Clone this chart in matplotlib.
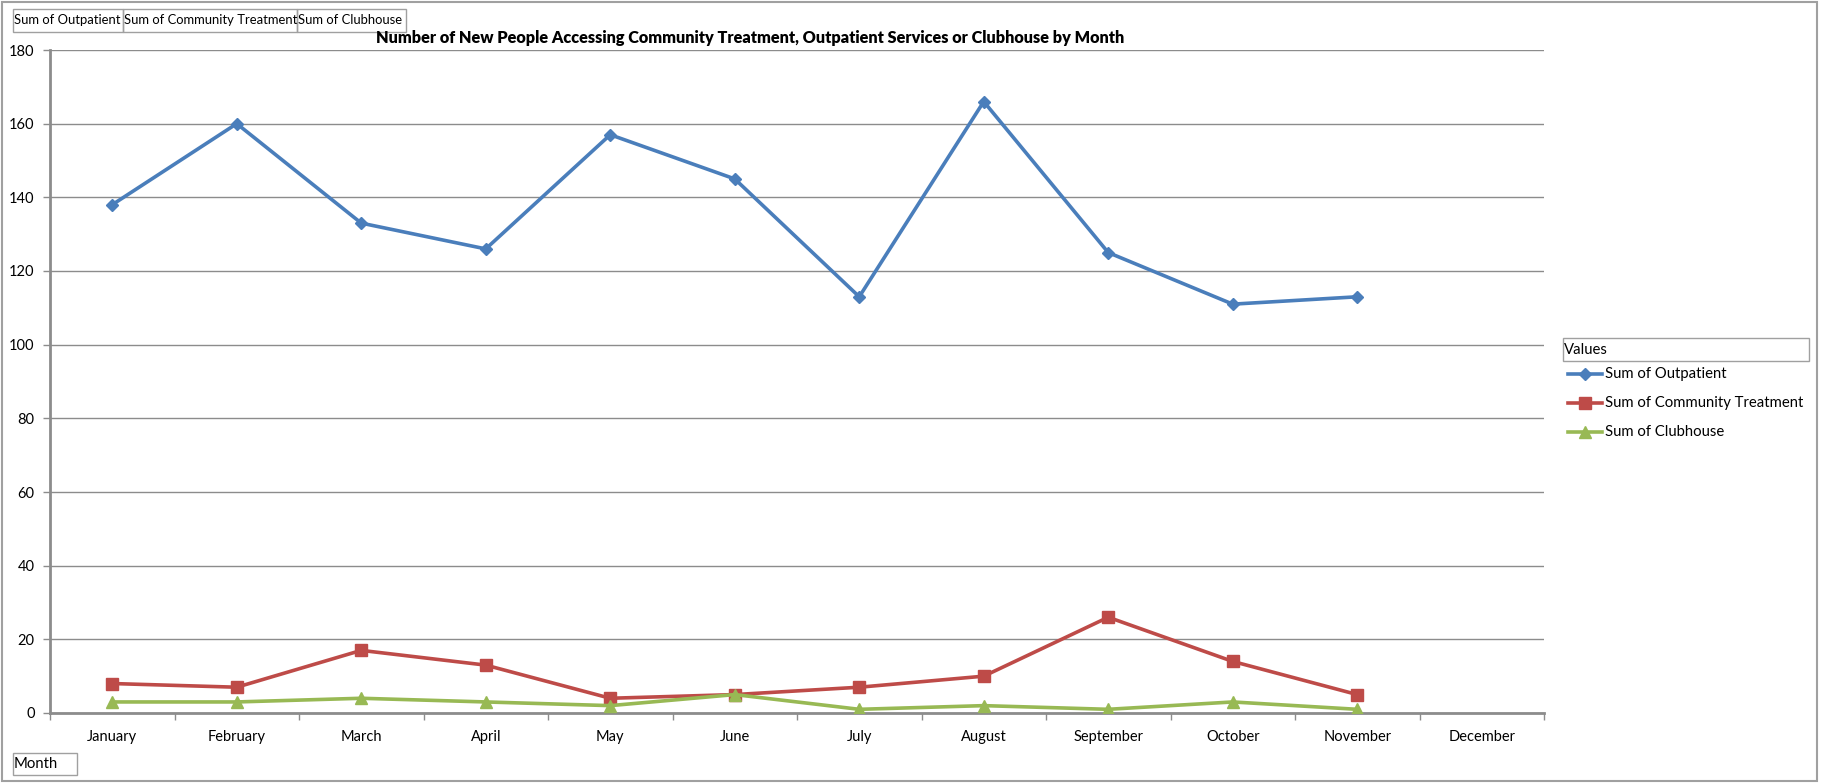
import numpy as np
import matplotlib
matplotlib.use('Agg')
import matplotlib.pyplot as plt
from matplotlib.patches import Rectangle
from matplotlib.lines import Line2D

# ============================================================
# data
# ============================================================
months = ['January', 'February', 'March', 'April', 'May', 'June', 'July',
          'August', 'September', 'October', 'November', 'December']
outpatient = [138, 160, 133, 126, 157, 145, 113, 166, 125, 111, 113, np.nan]
community = [8, 7, 17, 13, 4, 5, 7, 10, 26, 14, 5, np.nan]
clubhouse = [3, 3, 4, 3, 2, 5, 1, 2, 1, 3, 1, np.nan]
series_names = ['Sum of Outpatient', 'Sum of Community Treatment', 'Sum of Clubhouse']
title = 'Number of New People Accessing Community Treatment, Outpatient Services or Clubhouse by Month'

plt.rcParams['font.family'] = ['Lato', 'DejaVu Sans']

W, H = 1823, 783
fig = plt.figure(figsize=(W / 100, H / 100), dpi=100)


def fx(px):
    return px / W


def fy(py):
    return 1 - py / H


ax = fig.add_axes([fx(50), fy(713), fx(1544) - fx(50), fy(50) - fy(713)])

colors = ['#4A7EBB', '#BE4B48', '#98B954']
markers = ['D', 's', '^']
msizes = [6.5, 8.5, 8.5]
x = np.arange(len(months))
for vals, c, m, ms in zip([outpatient, community, clubhouse], colors, markers, msizes):
    ax.plot(x, vals, color=c, marker=m, markersize=ms, lw=2.6, zorder=3)

ax.set_xlim(-0.5, 11.5)
ax.set_ylim(0, 180)
ax.set_yticks(np.arange(0, 181, 20))
ax.yaxis.grid(True, color='#8c8c8c', lw=1)
ax.set_axisbelow(True)
ax.set_xticks(x)
ax.set_xticklabels(months)
ax.set_xticks(np.arange(-0.5, 12, 1), minor=True)
ax.tick_params(axis='x', which='major', length=0, pad=12, labelsize=10.5)
ax.tick_params(axis='x', which='minor', length=5, color='#8c8c8c', width=1)
ax.tick_params(axis='y', length=5, color='#8c8c8c', width=1, labelsize=10.5, pad=6)
for s in ['top', 'right']:
    ax.spines[s].set_visible(False)
for s in ['left', 'bottom']:
    ax.spines[s].set_color('#8c8c8c')
    ax.spines[s].set_linewidth(2)

fig.text(fx(750), fy(38), title, ha='center', va='center', fontsize=11.7, fontweight='heavy')

# outer border
fig.patches.append(Rectangle((fx(2), fy(781)), fx(1815), fy(2) - fy(781),
                             transform=fig.transFigure, fill=False, ec='#a0a0a0', lw=1.5))


def field_button(x0, x1, y0, y1, label, size):
    fig.patches.append(Rectangle((fx(x0), fy(y1)), fx(x1) - fx(x0), fy(y0) - fy(y1),
                                 transform=fig.transFigure, fill=False, ec='#a0a0a0', lw=1))
    fig.text(fx(x0 + 1), fy((y0 + y1) / 2), label, ha='left', va='center', fontsize=size)


field_button(13, 123, 9, 32, series_names[0], 9.4)
field_button(123, 297, 9, 32, series_names[1], 9.4)
field_button(297, 406, 9, 32, series_names[2], 9.4)
field_button(13, 77, 753, 775, 'Month', 10.7)
field_button(1563, 1809, 338, 361, 'Values', 10.7)

# legend
for i, (name, c, m, ms) in enumerate(zip(series_names, colors, markers, msizes)):
    yy = fy(374 + 29 * i)
    fig.lines.append(Line2D([fx(1568), fx(1602)], [yy, yy], transform=fig.transFigure,
                            color=c, lw=2.6))
    fig.lines.append(Line2D([fx(1585)], [yy], transform=fig.transFigure,
                            color=c, marker=m, markersize=ms, lw=0))
    fig.text(fx(1605), yy, name, ha='left', va='center', fontsize=10.7)

plt.savefig('out.png', dpi=100)
